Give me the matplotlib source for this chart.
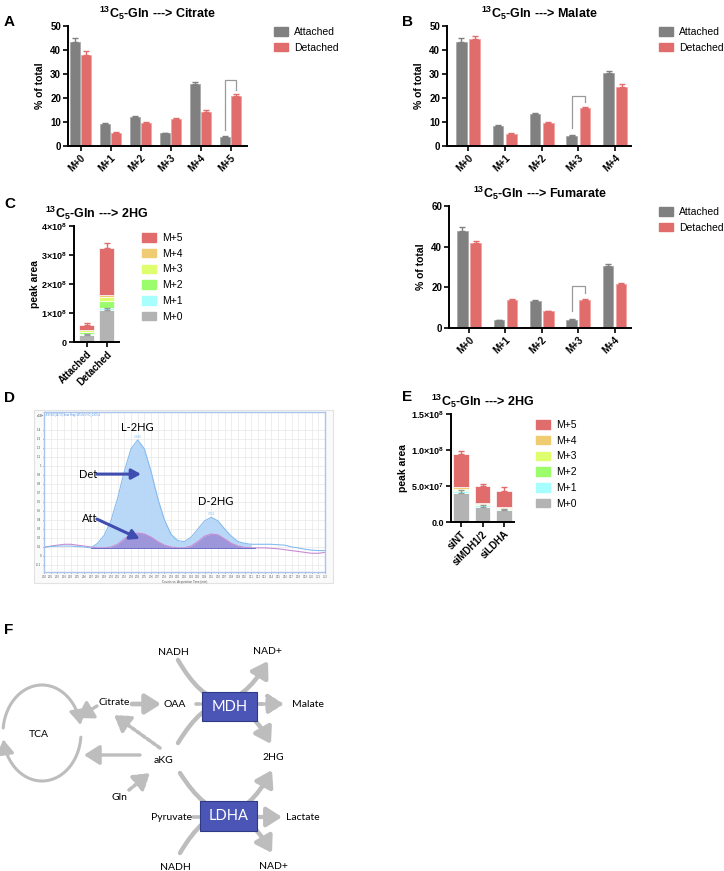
import numpy as np
import matplotlib
matplotlib.use('Agg')
import matplotlib.pyplot as plt
from matplotlib.patches import Patch, Rectangle, FancyArrowPatch
from matplotlib.path import Path

# ---------------- data ----------------
iso6 = ['M+0', 'M+1', 'M+2', 'M+3', 'M+4', 'M+5']
iso5 = ['M+0', 'M+1', 'M+2', 'M+3', 'M+4']
conditions = ['Attached', 'Detached']

# A: citrate (% of total)
cit_att = [43.5, 9.2, 12.0, 5.3, 26.0, 3.7]
cit_att_err = [1.5, 0.3, 0.6, 0.3, 0.7, 0.3]
cit_det = [38.0, 5.6, 9.6, 11.4, 14.2, 21.0]
cit_det_err = [1.4, 0.2, 0.3, 0.3, 0.7, 0.6]
cit_bracket = [5, 6.5, 27.5, 23.3]   # group, left foot, top, right foot

# B: malate
mal_att = [43.3, 8.5, 13.2, 4.2, 30.6]
mal_att_err = [1.5, 0.4, 0.5, 0.2, 0.7]
mal_det = [44.5, 5.1, 9.6, 16.0, 24.7]
mal_det_err = [1.4, 0.2, 0.3, 0.4, 1.0]
mal_bracket = [3, 7.5, 20.8, 18.4]

# B (lower): fumarate
fum_att = [47.8, 3.8, 13.4, 3.8, 30.6]
fum_att_err = [1.8, 0.3, 0.6, 0.4, 1.0]
fum_det = [41.8, 14.0, 8.3, 14.0, 21.5]
fum_det_err = [1.0, 0.3, 0.3, 0.3, 0.5]
fum_bracket = [3, 8.2, 20.7, 17.1]

# C: 2HG peak area, rows M+0..M+5, columns Attached / Detached
hg_c = [[0.25e8, 1.10e8],
        [0.03e8, 0.08e8],
        [0.05e8, 0.24e8],
        [0.07e8, 0.12e8],
        [0.03e8, 0.07e8],
        [0.17e8, 1.64e8]]
hg_c_m0_err = [0.02e8, 0.08e8]
hg_c_tot_err = [0.06e8, 0.17e8]
c_yticks = [0, 1e8, 2e8, 3e8, 4e8]
c_yticklabels = ['0', r'1$\times$10$^{8}$', r'2$\times$10$^{8}$', r'3$\times$10$^{8}$', r'4$\times$10$^{8}$']

# E: 2HG peak area after knockdown
knockdowns = ['siNT', 'siMDH1/2', 'siLDHA']
hg_e = [[4.0e7, 2.15e7, 1.6e7],
        [0.35e7, 0.2e7, 0.2e7],
        [0.15e7, 0.08e7, 0.1e7],
        [0.15e7, 0.07e7, 0.08e7],
        [0.2e7, 0.12e7, 0.12e7],
        [4.6e7, 2.43e7, 2.15e7]]
hg_e_m0_err = [0.45e7, 0.2e7, 0.15e7]
hg_e_tot_err = [0.45e7, 0.25e7, 0.65e7]
e_yticks = [0, 5e7, 1e8, 1.5e8]
e_yticklabels = ['0.0', r'5.0$\times$10$^{7}$', r'1.0$\times$10$^{8}$', r'1.5$\times$10$^{8}$']

# D: chromatogram traces (x10^5 counts), sampled every 0.01 min
rt = np.round(np.arange(2.80, 3.2201, 0.01), 2)
det_trace = [0.10, 0.105, 0.11, 0.11, 0.11, 0.105, 0.10, 0.09, 0.14, 0.23,
             0.39, 0.64, 0.94, 1.19, 1.29, 1.19, 0.94, 0.64, 0.40, 0.24,
             0.17, 0.16, 0.21, 0.30, 0.39, 0.43, 0.39, 0.30, 0.22, 0.16,
             0.14, 0.13, 0.13, 0.13, 0.13, 0.125, 0.12, 0.10, 0.09, 0.075,
             0.065, 0.06, 0.06]
att_trace = [0.095, 0.11, 0.12, 0.13, 0.13, 0.12, 0.11, 0.10, 0.09, 0.09,
             0.10, 0.13, 0.19, 0.24, 0.255, 0.245, 0.21, 0.16, 0.12, 0.10,
             0.09, 0.09, 0.11, 0.16, 0.22, 0.245, 0.235, 0.19, 0.14, 0.11,
             0.095, 0.09, 0.09, 0.09, 0.085, 0.08, 0.07, 0.06, 0.05, 0.04,
             0.03, 0.03, 0.04]
peak_rt = [2.94, 3.051]
peak_names = ['L-2HG', 'D-2HG']

# ---------------- styling ----------------
W, H = 724, 871
GRAY = '#808080'
RED = '#E06C6B'
STACK_COLORS = ['#B3B3B3', '#A6FFFD', '#9BFD6B', '#DEFE6E', '#EFCB72', '#E06C6B']
ARROW_C = '#BDBDBD'
BOX_C = '#4A55B5'

plt.rcParams['font.family'] = ['Liberation Sans', 'DejaVu Sans']
plt.rcParams['font.weight'] = 'bold'
plt.rcParams['axes.labelweight'] = 'bold'
plt.rcParams['mathtext.fontset'] = 'custom'
plt.rcParams['mathtext.bf'] = 'Liberation Sans:bold'
plt.rcParams['mathtext.rm'] = 'Liberation Sans:bold'
plt.rcParams['mathtext.default'] = 'bf'

fig = plt.figure(figsize=(W / 100, H / 100), dpi=100)


def px_axes(x0, y0, x1, y1):
    return fig.add_axes([x0 / W, 1 - y1 / H, (x1 - x0) / W, (y1 - y0) / H])


def prism(ax):
    ax.spines['top'].set_visible(False)
    ax.spines['right'].set_visible(False)
    ax.spines['left'].set_linewidth(1.4)
    ax.spines['bottom'].set_linewidth(1.4)
    ax.tick_params(width=1.2, length=3.5, labelsize=7, pad=1.5)


def legend_at(ax, handles, labels, x, y):
    ax.legend(handles, labels, loc='upper left', bbox_to_anchor=(x / W, 1 - y / H),
              bbox_transform=fig.transFigure, frameon=False, borderpad=0, borderaxespad=0,
              handlelength=1.3, handleheight=0.9, handletextpad=0.6, labelspacing=0.55,
              prop={'weight': 'normal', 'size': 7.5})


def iso_panel(box, title, cats, att, att_err, det, det_err, yticks, off, width, xlim,
              bracket, leg_xy):
    ax = px_axes(*box)
    x = np.arange(len(cats))
    ax.bar(x - off, att, width, color=GRAY, edgecolor='#a9a9a9', lw=0.6)
    ax.bar(x + off, det, width, color=RED, edgecolor='#f2a3a2', lw=0.6)
    ax.errorbar(x - off, att, yerr=[np.zeros(len(att)), att_err], fmt='none',
                ecolor=GRAY, elinewidth=1, capsize=2.5, capthick=1)
    ax.errorbar(x + off, det, yerr=[np.zeros(len(det)), det_err], fmt='none',
                ecolor=RED, elinewidth=1, capsize=2.5, capthick=1)
    g, y_left, y_top, y_right = bracket
    ax.plot([g - off, g - off, g + off, g + off], [y_left, y_top, y_top, y_right],
            color='#9a9a9a', lw=0.9)
    ax.set_xlim(*xlim)
    ax.set_ylim(0, yticks[-1])
    ax.set_yticks(yticks)
    ax.set_xticks(x)
    ax.set_xticklabels(cats, rotation=45, ha='right', rotation_mode='anchor')
    ax.set_ylabel('% of total', fontsize=7.5, labelpad=4)
    ax.set_title(title, fontsize=9, fontweight='bold', pad=6)
    prism(ax)
    handles = [Patch(color=GRAY), Patch(color=RED)]
    legend_at(ax, handles, conditions, *leg_xy)
    return ax


def stack_panel(box, cats, stack, m0_err, tot_err, yticks, yticklabels, xlim, width,
                leg_xy, labelx):
    ax = px_axes(*box)
    x = np.arange(len(cats))
    bottom = np.zeros(len(cats))
    for vals, col in zip(stack, STACK_COLORS):
        ax.bar(x, vals, width, bottom=bottom, color=col, edgecolor='white', lw=0.5)
        bottom = bottom + np.array(vals)
    ax.errorbar(x, stack[0], yerr=[np.zeros(len(cats)), m0_err], fmt='none',
                ecolor='#9a9a9a', elinewidth=1, capsize=2.5, capthick=1)
    ax.errorbar(x, bottom, yerr=[np.zeros(len(cats)), tot_err], fmt='none',
                ecolor=RED, elinewidth=1, capsize=2.5, capthick=1)
    ax.set_xlim(*xlim)
    ax.set_ylim(0, yticks[-1])
    ax.set_yticks(yticks)
    ax.set_yticklabels(yticklabels)
    ax.set_xticks(x)
    ax.set_xticklabels(cats, rotation=45, ha='right', rotation_mode='anchor')
    ax.set_ylabel('peak area', fontsize=7.5)
    ax.yaxis.set_label_coords(labelx, 0.5)
    ax.set_title(r'$^{13}$C$_{5}$-Gln ---> 2HG', fontsize=9, fontweight='bold', pad=6)
    prism(ax)
    ax.tick_params(axis='y', labelsize=6.5)
    handles = [Patch(color=c) for c in STACK_COLORS[::-1]]
    legend_at(ax, handles, iso6[::-1], *leg_xy)
    return ax


# overlay axes in pixel coordinates for letters, panel D frame and the pathway diagram
ov = fig.add_axes([0, 0, 1, 1])
ov.set_xlim(0, W)
ov.set_ylim(H, 0)
ov.axis('off')
ov.set_zorder(-1)

for letter, lx, ly in [('A', 4, 22), ('B', 402, 22), ('C', 4, 204), ('D', 4, 398),
                       ('E', 402, 397), ('F', 4, 630)]:
    ov.text(lx, ly, letter, fontsize=11, fontweight='bold', va='center', ha='left')

# ---- A, B, fumarate ----
iso_panel((68, 26, 247, 146), r'$^{13}$C$_{5}$-Gln ---> Citrate', iso6, cit_att, cit_att_err,
          cit_det, cit_det_err, [0, 10, 20, 30, 40, 50], 0.18, 0.32, (-0.42, 5.55),
          cit_bracket, (274, 27))
iso_panel((447, 26, 631, 146), r'$^{13}$C$_{5}$-Gln ---> Malate', iso5, mal_att, mal_att_err,
          mal_det, mal_det_err, [0, 10, 20, 30, 40, 50], 0.18, 0.29, (-0.57, 4.43),
          mal_bracket, (659, 27))
iso_panel((449, 206, 631, 328), r'$^{13}$C$_{5}$-Gln ---> Fumarate', iso5, fum_att, fum_att_err,
          fum_det, fum_det_err, [0, 20, 40, 60], 0.18, 0.29, (-0.55, 4.45),
          fum_bracket, (659, 207))

# ---- C and E ----
stack_panel((74, 226, 119, 342), conditions, hg_c, hg_c_m0_err, hg_c_tot_err,
            c_yticks, c_yticklabels, (-0.625, 1.625), 0.75, (142, 233), -0.76)
stack_panel((451, 414, 514, 522), knockdowns, hg_e, hg_e_m0_err, hg_e_tot_err,
            e_yticks, e_yticklabels, (-0.47, 2.47), 0.74, (536, 420), -0.68)

# ---- D: chromatogram ----
ov.add_patch(Rectangle((34, 410), 299, 173, facecolor='#FAFAFA', edgecolor='#E2E2E2', lw=0.8))
axd = px_axes(44, 412, 325, 572)
det_arr = np.array(det_trace)
att_arr = np.array(att_trace)
axd.fill_between(rt, det_arr, 0.09, where=(rt >= 2.87) & (rt <= 3.115),
                 color='#B5D6F7', alpha=0.95, lw=0)
axd.fill_between(rt, att_arr, 0.09, where=(rt >= 2.88) & (rt <= 3.11),
                 color='#9C8FD8', alpha=0.9, lw=0)
axd.plot(rt, att_trace, color='#C98BD3', lw=0.8)
axd.plot(rt, det_trace, color='#86BCEE', lw=0.8)
axd.plot([2.87, 3.115], [0.09, 0.09], color='#5B5FC0', lw=0.6)
axd.set_xlim(2.80, 3.22)
axd.set_ylim(-0.178, 1.6)
axd.set_xticks(rt)
axd.set_xticklabels(['%.2f' % v for v in rt], fontsize=1.8, fontweight='normal', color='#555555')
axd.set_yticks(np.round(np.arange(-0.1, 1.45, 0.1), 1))
axd.set_yticklabels(['%g' % v for v in np.round(np.arange(-0.1, 1.45, 0.1), 1)],
                    fontsize=2.2, fontweight='normal', color='#555555')
axd.tick_params(length=1, width=0.4, pad=1)
axd.grid(True, color='#E8E8E8', lw=0.5)
axd.set_axisbelow(True)
for s in axd.spines.values():
    s.set_color('#A9C5EE')
    s.set_linewidth(1.0)
axd.set_xlabel('Counts vs. Acquisition Time (min)', fontsize=2.2, fontweight='normal',
               labelpad=1, color='#555555')
axd.text(0.005, 0.995, '-ESI EIC(147.0) Scan Frag=135.0V 2HG_13C5.d', transform=axd.transAxes,
         fontsize=1.8, fontweight='normal', color='#4A90E2', va='top')
axd.text(-0.03, 1.0, 'x10$^{5}$', transform=axd.transAxes, fontsize=2.2, color='#555555', va='top')
for prt, py in zip(peak_rt, [det_arr[14], det_arr[25]]):
    axd.text(prt, py + 0.015, '%.3f' % prt, fontsize=2.2, fontweight='normal', color='#86BCEE',
             ha='center', va='bottom')
axd.text(peak_rt[0], 1.43, peak_names[0], fontsize=8, fontweight='normal', family='Lato',
         ha='center', va='center')
axd.text(peak_rt[1] + 0.006, 0.61, peak_names[1], fontsize=8, fontweight='normal', family='Lato',
         ha='center', va='center')
axd.text(2.866, 0.91, 'Det', fontsize=8, fontweight='normal', family='Lato', ha='center',
         va='center')
axd.text(2.869, 0.42, 'Att', fontsize=8, fontweight='normal', family='Lato', ha='center',
         va='center')
arr_kw = dict(arrowstyle='-|>,head_length=0.55,head_width=0.3', color='#3F4DB0', lw=2.2,
              mutation_scale=10, shrinkA=0, shrinkB=0)
axd.annotate('', xy=(2.945, 0.91), xytext=(2.879, 0.91), arrowprops=arr_kw)
axd.annotate('', xy=(2.943, 0.19), xytext=(2.879, 0.41), arrowprops=arr_kw)


# ---- F: pathway diagram ----
def arrow(p0, p1, rad=0.0, lw=2.8, dashed=False, head=True, z=1):
    style = '-|>,head_length=0.55,head_width=0.35' if head else '-'
    ls = (0, (1.0, 0.7)) if dashed else '-'
    ov.add_patch(FancyArrowPatch(p0, p1, connectionstyle='arc3,rad=%g' % rad, arrowstyle=style,
                                 mutation_scale=17, lw=lw, color=ARROW_C, linestyle=ls,
                                 shrinkA=0, shrinkB=0, zorder=z))


# TCA cycle as two arcs
cx, cy, rx, ry = 42, 733, 39, 48
for t0, t1 in [(174, 10), (-5, -172)]:
    ang = np.radians(np.linspace(t0, t1, 60))
    verts = np.column_stack([cx + rx * np.cos(ang), cy - ry * np.sin(ang)])
    ov.add_patch(FancyArrowPatch(path=Path(verts), arrowstyle='-|>,head_length=0.55,head_width=0.35',
                                 mutation_scale=15, lw=2.2, color=ARROW_C, zorder=1))

arrow((97, 706), (77, 718), lw=2.4)
arrow((132, 704), (161, 704), lw=3.4)
arrow((140, 755), (84, 755), lw=2.4)
arrow((160, 748), (114, 715), dashed=True, lw=2.6)
arrow((129, 790), (150, 773), dashed=True, lw=2.6)
arrow((196, 704), (203, 704), dashed=True, head=False, lw=2.6)
arrow((259, 704), (284, 704), dashed=True, lw=2.8)
arrow((193, 817), (201, 817), head=False, lw=2.6)
arrow((256, 817), (282, 817), lw=3.0)
arrow((178, 660), (268, 661), rad=0.85, lw=3.2)
arrow((178, 743), (271, 744), rad=-0.85, lw=3.2)
arrow((180, 773), (272, 770), rad=0.85, lw=3.2)
arrow((180, 853), (272, 853), rad=-0.85, lw=3.2)

for bx, by, bw, bh, name in [(202, 692, 55, 29, 'MDH'), (200, 801, 57, 30, 'LDHA')]:
    ov.add_patch(Rectangle((bx, by), bw, bh, facecolor=BOX_C, edgecolor='#2F3A86', lw=0.8,
                           zorder=3))
    ov.text(bx + bw / 2, by + bh / 2, name, color='white', fontsize=10.5, family='Lato',
            fontweight='normal', ha='center', va='center', zorder=4)

for lbl, lx, ly in [('TCA', 39, 734), ('Citrate', 114, 702), ('OAA', 175, 704),
                    ('Malate', 308, 704), ('NADH', 173, 652), ('NAD+', 267, 651),
                    ('aKG', 164, 760), ('2HG', 273, 757), ('Gln', 119, 797),
                    ('Pyruvate', 171, 817), ('Lactate', 303, 817), ('NADH', 175, 867),
                    ('NAD+', 273, 866)]:
    ov.text(lx, ly, lbl, fontsize=7.5, family='Lato', fontweight='normal', ha='center',
            va='center', zorder=4)

fig.savefig('out.png', dpi=100)
